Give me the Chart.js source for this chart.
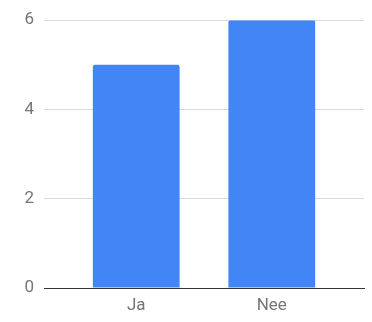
<!DOCTYPE html>
<html>
<head>
<meta charset="utf-8">
<script src="https://cdn.jsdelivr.net/npm/chart.js@4"></script>
<style>
  html, body { margin: 0; padding: 0; background: #fff; }
  #wrap { width: 372px; height: 322px; }
</style>
</head>
<body>
<div id="wrap"><canvas id="chart" width="372" height="322"></canvas></div>
<script>
const categories = ['Ja', 'Nee'];
const counts = [5, 6];
const yTicks = [0, 2, 4, 6];

// bars sit on a linear x axis (positions 1, 2) so the plot can be wider than the bar groups
const points = categories.map((c, i) => ({ x: i + 1, y: counts[i] }));

new Chart(document.getElementById('chart'), {
  type: 'bar',
  data: {
    datasets: [{
      data: points,
      backgroundColor: '#4285F4',
      borderRadius: { topLeft: 2, topRight: 2 },
      borderSkipped: 'bottom',
      barPercentage: 0.64,
      categoryPercentage: 1
    }]
  },
  options: {
    responsive: false,
    animation: false,
    layout: { padding: { top: 10, right: 8, bottom: 0, left: 0 } },
    plugins: { legend: { display: false }, tooltip: { enabled: false } },
    scales: {
      x: {
        type: 'linear',
        offset: false,
        min: 0.32,
        max: 2.68,
        afterBuildTicks: (scale) => { scale.ticks = categories.map((c, i) => ({ value: i + 1 })); },
        afterFit: (scale) => { scale.height = 34; },
        grid: { display: false, drawTicks: false, offset: false },
        border: { display: true, color: '#333333', width: 1 },
        ticks: {
          padding: 8,
          color: '#757575',
          font: { family: 'Roboto', size: 17 },
          callback: (v) => categories[v - 1] || ''
        }
      },
      y: {
        min: 0,
        max: 6,
        afterBuildTicks: (scale) => { scale.ticks = yTicks.map(v => ({ value: v })); },
        afterFit: (scale) => { scale.width = 44; },
        border: { display: false },
        grid: {
          drawTicks: false,
          color: (ctx) => ctx.tick && ctx.tick.value === 0 ? '#333333' : '#d9d9d9'
        },
        ticks: {
          padding: 10,
          color: '#757575',
          font: { family: 'Roboto', size: 17 }
        }
      }
    }
  }
});
</script>
</body>
</html>
